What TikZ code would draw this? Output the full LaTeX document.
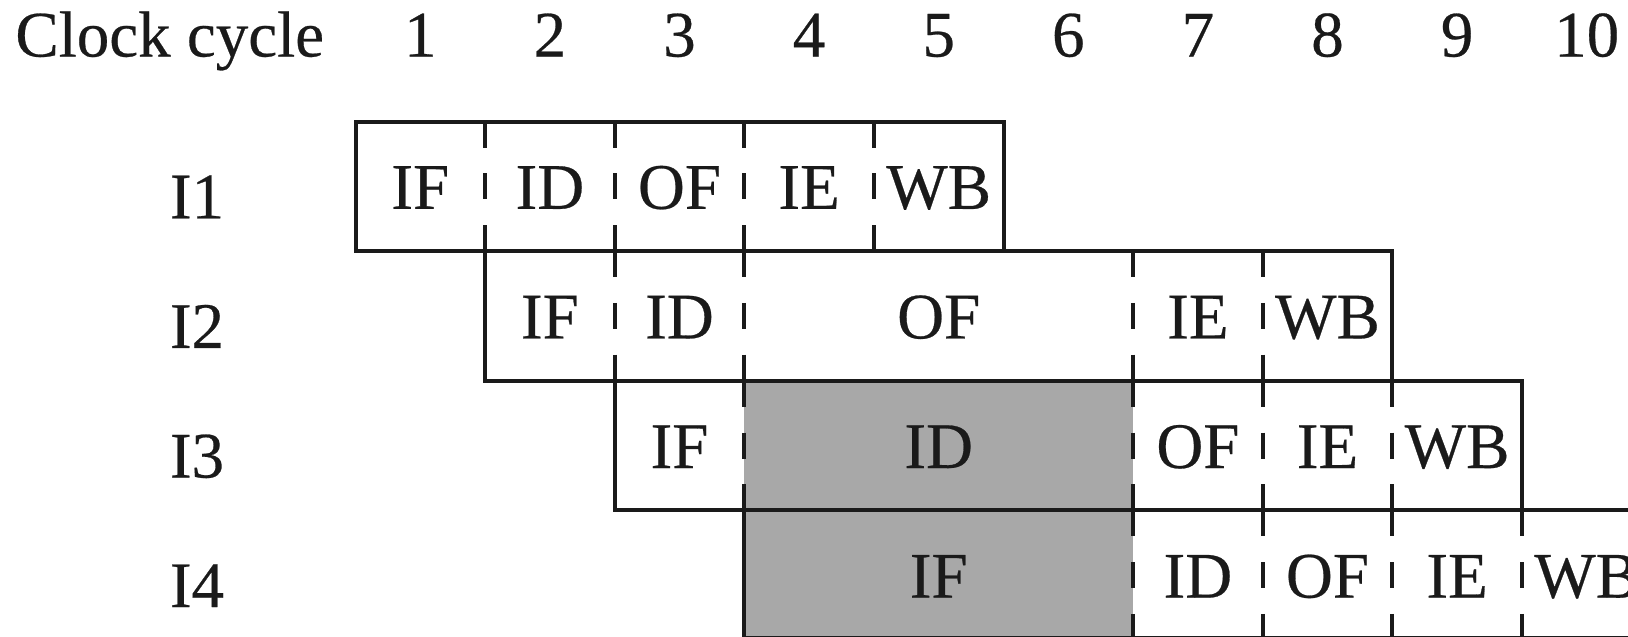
\documentclass[tikz,border=0pt]{standalone}
\usepackage{fontspec}
\setmainfont{Liberation Serif}[FakeBold=0.4]
\definecolor{ink}{HTML}{1A1A1A}
\definecolor{stallgray}{HTML}{A8A8A8}
\newcommand\colx[1]{355.5+129.6*(#1)}
\newcommand\colc[1]{355.5+129.6*((#1)-0.5)}
\newcommand\rowy[1]{121.5+129.6*(#1)}
\newcommand\rowb[1]{121.5+129.6*((#1)+0.5)+22.5}
\begin{document}
\begin{tikzpicture}[x=0.5pt,y=-0.5pt,
  lbl/.style={font=\fontsize{32.5}{39}\selectfont, text=ink, anchor=base, inner sep=0pt},
  boxline/.style={draw=ink, line width=2pt},
  divline/.style={draw=ink, line width=2pt, dash pattern=on 13pt off 12.9pt},
  stallfill/.style={fill=stallgray}]
\useasboundingbox (0,0) rectangle (1628,637);
\clip (0,0) rectangle (1628,637);
% header
\node[lbl, anchor=base west] (clk) at (15,56.5) {Clock cycle};
\foreach \k in {1,...,10}
  \node[lbl] (n\k) at ({\colc{\k}},56.5) {\k};
% row labels
\foreach \r/\t in {0/I1,1/I2,2/I3,3/I4}
  \node[lbl] (lab\t) at (197,{\rowy{\r}+64.8+32}) {\t};
% stall shading
\path[stallfill] ({\colx{3}},{\rowy{2}}) rectangle ({\colx{6}},{\rowy{4}});
% instruction boxes
\draw[boxline] ({\colx{0}},{\rowy{0}}) rectangle ({\colx{5}},{\rowy{1}});
\draw[boxline] ({\colx{1}},{\rowy{1}}) rectangle ({\colx{8}},{\rowy{2}});
\draw[boxline] ({\colx{2}},{\rowy{2}}) rectangle ({\colx{9}},{\rowy{3}});
\draw[boxline] ({\colx{3}},{\rowy{3}}) rectangle ({\colx{11}},638);
% stage dividers
\foreach \r/\list in {0/{1,2,3,4},1/{2,3,6,7},2/{3,6,7,8},3/{6,7,8,9}}
  \foreach \c in \list
    \draw[divline] ({\colx{\c}},{\rowy{\r}}) -- ({\colx{\c}},{\rowy{\r+1}});
% stage labels
\foreach \r/\c/\t/\nm in {0/1/IF/a1,0/2/ID/a2,0/3/OF/a3,0/4/IE/a4,0/5/WB/a5,
                       1/2/IF/b1,1/3/ID/b2,1/5/OF/b3,1/7/IE/b4,1/8/WB/b5,
                       2/3/IF/c1,2/5/ID/c2,2/7/OF/c3,2/8/IE/c4,2/9/WB/c5,
                       3/5/IF/d1,3/7/ID/d2,3/8/OF/d3,3/9/IE/d4,3/10/WB/d5}
  \node[lbl] (\nm) at ({\colc{\c}},{\rowb{\r}}) {\t};
\end{tikzpicture}
\end{document}
